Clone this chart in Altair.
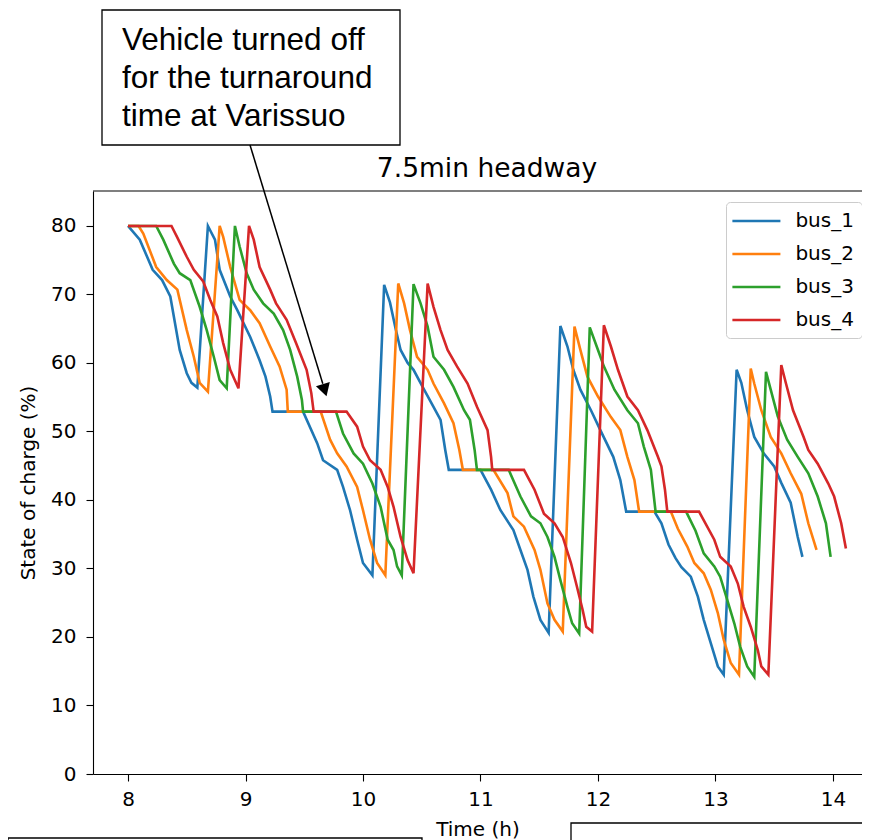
import altair as alt
import pandas as pd

BUSES = ["bus_1", "bus_2", "bus_3", "bus_4"]
COLORS = ["#1f77b4", "#ff7f0e", "#2ca02c", "#d62728"]
X_TICKS = [8, 9, 10, 11, 12, 13, 14]
Y_TICKS = [0, 10, 20, 30, 40, 50, 60, 70, 80]
TITLE = "7.5min headway"
X_TITLE = "Time (h)"
Y_TITLE = "State of charge (%)"
NOTE = ["Vehicle turned off", "for the turnaround", "time at Varissuo"]

bus1_t = [8.00, 8.10, 8.21, 8.29, 8.36, 8.40, 8.44, 8.50, 8.54, 8.59, 8.68, 8.74, 8.78, 8.87, 8.93,
          9.04, 9.12, 9.17, 9.21, 9.23, 9.49, 9.61, 9.66, 9.78, 9.83, 9.89, 9.95, 10.00, 10.08,
          10.18, 10.23, 10.28, 10.32, 10.38, 10.43, 10.52, 10.60, 10.66, 10.70, 10.73, 11.00,
          11.09, 11.17, 11.28, 11.34, 11.40, 11.45, 11.51, 11.58, 11.68, 11.74, 11.79, 11.85,
          11.94, 12.02, 12.13, 12.19, 12.24, 12.48, 12.54, 12.60, 12.66, 12.71, 12.79, 12.85,
          12.90, 12.96, 13.02, 13.07, 13.18, 13.22, 13.27, 13.33, 13.41, 13.50, 13.56, 13.64,
          13.70, 13.74]
bus1_soc = [80, 78, 73.6, 72.1, 69.7, 65.8, 61.9, 58.5, 57.1, 56.4, 80, 78, 73.6, 69.7, 67.7,
            63.8, 60.4, 58, 55.1, 52.9, 52.9, 48.3, 45.8, 44.4, 41.9, 38.5, 34.2, 30.8, 29.0,
            71.4, 68.8, 64.8, 61.9, 60, 59, 56.1, 53.6, 51.7, 47.3, 44.4, 44.4,
            41.5, 38.5, 35.6, 32.7, 29.8, 25.9, 22.5, 20.6, 65.4, 62.4, 59, 56.1,
            53.1, 50.2, 46.3, 42.9, 38.3, 38.3, 36.6, 33.5, 31.5, 30.2, 28.8, 25.9,
            22.5, 19.1, 15.7, 14.5, 59, 57.1, 53.1, 49.2, 46.8, 44.9, 42.5, 39.6,
            34.6, 31.7]

bus2_t = [8.00, 8.09, 8.13, 8.24, 8.33, 8.42, 8.50, 8.56, 8.61, 8.68, 8.78, 8.81, 8.87, 8.95,
          9.04, 9.12, 9.21, 9.29, 9.35, 9.36, 9.64, 9.72, 9.78, 9.86, 9.95, 10.00, 10.06, 10.12,
          10.19, 10.30, 10.35, 10.40, 10.46, 10.55, 10.60, 10.69, 10.77, 10.82, 10.85, 11.11,
          11.23, 11.28, 11.37, 11.46, 11.51, 11.57, 11.63, 11.70, 11.80, 11.85, 11.91, 12.00,
          12.11, 12.19, 12.25, 12.31, 12.35, 12.62, 12.68, 12.76, 12.82, 12.90, 12.96, 13.02,
          13.07, 13.13, 13.20, 13.30, 13.33, 13.39, 13.47, 13.56, 13.64, 13.73, 13.79, 13.86]
bus2_soc = [80, 80, 78.9, 74, 72.1, 70.7, 64.8, 60.9, 57.1, 55.8, 80, 78.4, 74, 69.2,
            67.7, 65.8, 62.4, 59.5, 56.1, 52.9, 52.9, 48.8, 46.8, 44.9, 41.9, 38.5, 34.2, 30.8,
            29.0, 71.6, 68.7, 64.8, 60.9, 59, 57, 54.1, 51.2, 47.3, 44.4, 44.4,
            41, 37.6, 36.1, 32.7, 29.8, 24.9, 22.5, 20.8, 65.3, 61.9, 58, 55.1,
            52.1, 50.2, 46.3, 42.9, 38.3, 38.3, 35.8, 33.2, 30.8, 29.3, 26.9, 23.5,
            19.6, 16.2, 14.5, 59.2, 57, 53.1, 49.2, 46.8, 43.9, 40.9, 36.6, 32.7]

bus3_t = [8.00, 8.24, 8.30, 8.39, 8.44, 8.53, 8.61, 8.67, 8.73, 8.78, 8.84, 8.91, 8.95, 9.01,
          9.07, 9.15, 9.24, 9.32, 9.38, 9.44, 9.48, 9.49, 9.77, 9.83, 9.92, 10.00, 10.08, 10.15,
          10.21, 10.26, 10.29, 10.33, 10.43, 10.49, 10.55, 10.60, 10.69, 10.77, 10.86, 10.91,
          10.95, 10.97, 11.24, 11.34, 11.43, 11.51, 11.57, 11.63, 11.68, 11.74, 11.78, 11.84,
          11.93, 12.00, 12.05, 12.14, 12.25, 12.34, 12.39, 12.45, 12.49, 12.75, 12.83, 12.90,
          12.99, 13.04, 13.10, 13.16, 13.21, 13.27, 13.33, 13.43, 13.47, 13.53, 13.61, 13.70,
          13.79, 13.87, 13.94, 13.98]
bus3_soc = [80, 80, 78, 74.5, 73.1, 72.1, 68.2, 64.8, 60.9, 57.5, 56.3, 80, 77, 73.1,
            70.7, 68.7, 67.2, 64.8, 61.9, 58, 54.6, 52.9, 52.9, 49.7, 46.8, 45.3, 42.4, 39,
            34.2, 32.7, 30.3, 29, 71.5, 68.7, 65.3, 60.9, 59, 56.5, 53.1, 51.7,
            47.3, 44.4, 44.4, 40.5, 37.6, 36.6, 34.6, 31.7, 28.3, 24.4, 22, 20.5,
            65.2, 61.9, 59.5, 56.1, 53.1, 51.2, 47.8, 44.4, 38.3, 38.3, 35.5, 32.2,
            30.3, 28.8, 25.4, 22, 18.6, 15.7, 14.2, 58.7, 56.1, 52.2, 48.8, 46.3,
            43.9, 40.5, 36.6, 31.7]

bus4_t = [8.00, 8.37, 8.42, 8.50, 8.56, 8.64, 8.70, 8.76, 8.81, 8.87, 8.94, 9.03, 9.07, 9.12,
          9.21, 9.26, 9.35, 9.43, 9.52, 9.56, 9.58, 9.86, 9.95, 10.00, 10.06, 10.15, 10.21,
          10.26, 10.32, 10.38, 10.43, 10.55, 10.60, 10.66, 10.72, 10.80, 10.89, 10.97, 11.06,
          11.09, 11.10, 11.37, 11.46, 11.54, 11.63, 11.70, 11.77, 11.82, 11.87, 11.90, 11.95,
          12.05, 12.11, 12.17, 12.25, 12.34, 12.42, 12.51, 12.54, 12.57, 12.59, 12.86, 12.99,
          13.04, 13.13, 13.19, 13.24, 13.30, 13.36, 13.39, 13.45, 13.56, 13.60, 13.66, 13.75,
          13.79, 13.87, 13.96, 14.01, 14.07, 14.11]
bus4_soc = [80, 80, 78.3, 75.5, 73.6, 71.9, 69.2, 66.8, 62.9, 59, 56.3, 80, 78, 74,
            70.7, 68.7, 66.3, 62.9, 59, 55.6, 52.9, 52.9, 50.7, 47.8, 45.8, 44.4, 41.9,
            39, 34.6, 31.2, 29.3, 71.6, 68.2, 64.8, 61.9, 59.5, 57, 53.6, 50.2,
            46.3, 44.4, 44.4, 41.5, 38, 36.6, 34.6, 30.8, 27.4, 23.9, 21.5, 20.8,
            65.5, 62.4, 59, 55.1, 53.1, 50.2, 46.3, 44.9, 41.5, 38.3, 38.3, 34.2,
            31.7, 30.3, 27.8, 24.4, 21.5, 18.1, 15.7, 14.5, 59.7, 57, 53.1, 49.2,
            47.3, 45.3, 42.4, 40.5, 36.6, 32.9]

rows = []
for name, ts, ss in zip(BUSES, [bus1_t, bus2_t, bus3_t, bus4_t],
                        [bus1_soc, bus2_soc, bus3_soc, bus4_soc]):
    for i, (t, s) in enumerate(zip(ts, ss)):
        rows.append({"bus": name, "time": t, "soc": s, "idx": i})
df = pd.DataFrame(rows)

W, H = 769, 583
FONT = "DejaVu Sans"

lines = alt.Chart(df).mark_line(strokeWidth=2.6).encode(
    x=alt.X("time:Q", scale=alt.Scale(domain=[7.702, 14.247], nice=False, zero=False),
            axis=alt.Axis(values=X_TICKS, format="d", title=X_TITLE, labelFlush=False)),
    y=alt.Y("soc:Q", scale=alt.Scale(domain=[0, 85.1], nice=False, zero=False),
            axis=alt.Axis(values=Y_TICKS, format="d", title=Y_TITLE, labelFlush=False)),
    color=alt.Color("bus:N", scale=alt.Scale(domain=BUSES, range=COLORS),
                    legend=alt.Legend(title=None, orient="none", legendX=633, legendY=11,
                                      direction="vertical", symbolType="M-2.5,0H2.5",
                                      symbolSize=369, symbolStrokeWidth=2.6,
                                      symbolOffset=11.4, labelOffset=28,
                                      labelFont=FONT, labelFontSize=20, labelColor="black",
                                      rowPadding=12, fillColor="white",
                                      strokeColor="#cccccc", cornerRadius=4, padding=8)),
    order=alt.Order("idx:Q"),
)

one = pd.DataFrame({"a": [0]})

top_spine = alt.Chart(one).mark_rule(color="black", strokeWidth=1.1).encode(
    x=alt.value(0), x2=alt.value(W), y=alt.value(0))
title_text = alt.Chart(one).mark_text(align="center", baseline="alphabetic", font=FONT,
                                      fontSize=26.5, color="black").encode(
    x=alt.value(394), y=alt.value(-14), text=alt.value(TITLE))
note_box = alt.Chart(one).mark_rect(fill="white", stroke="black", strokeWidth=1.3).encode(
    x=alt.value(9), x2=alt.value(307), y=alt.value(-181), y2=alt.value(-46))
note_text = alt.Chart(one).mark_text(align="left", baseline="alphabetic", font="Liberation Sans",
                                     fontSize=31.5, lineHeight=38, color="black").encode(
    x=alt.value(29), y=alt.value(-141), text=alt.value(NOTE))
arrow_line = alt.Chart(one).mark_rule(color="black", strokeWidth=1.5).encode(
    x=alt.value(157), y=alt.value(-46), x2=alt.value(229.8), y2=alt.value(192.8))
arrow_head = alt.Chart(one).mark_point(shape="triangle-down", filled=True, size=210, angle=343,
                                       color="black", opacity=1).encode(
    x=alt.value(231.7), y=alt.value(199.2))
box_left = alt.Chart(one).mark_rect(fill="white", stroke="black", strokeWidth=1.3).encode(
    x=alt.value(-85), x2=alt.value(329), y=alt.value(647), y2=alt.value(760))
box_right = alt.Chart(one).mark_rect(fill="white", stroke="black", strokeWidth=1.3).encode(
    x=alt.value(478), x2=alt.value(830), y=alt.value(632), y2=alt.value(760))

chart = alt.layer(lines, top_spine, title_text, note_box, note_text, arrow_line, arrow_head,
                  box_left, box_right).properties(
    width=W, height=H,
    autosize=alt.AutoSizeParams(type="none"),
    padding={"left": 85, "top": 183, "right": 0, "bottom": 70},
).configure_axis(
    domainColor="black", domainWidth=1.1, tickColor="black", tickWidth=1.1, tickSize=7,
    labelFont=FONT, labelFontSize=20, labelColor="black", titleFont=FONT, titleFontSize=20,
    titleFontWeight="normal", titleColor="black", grid=False,
).configure_axisX(labelPadding=8, titlePadding=10).configure_axisY(
    labelPadding=10, titlePadding=12
).configure_view(stroke=None)

chart.save("out.html", embed_options={"renderer": "svg", "actions": False})
